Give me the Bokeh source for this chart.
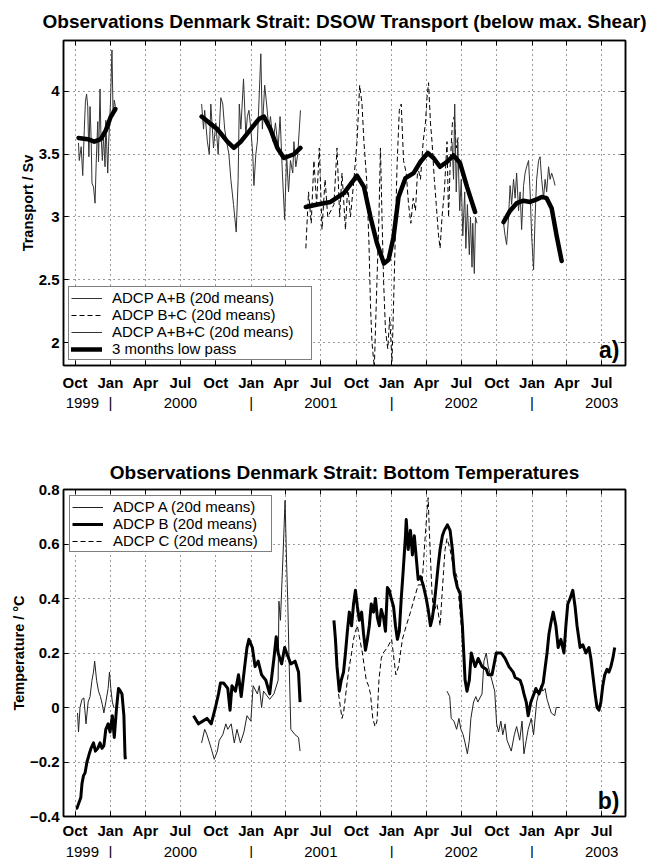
import numpy as np
import pandas as pd
from bokeh.plotting import figure
from bokeh.layouts import column
from bokeh.models import (Range1d, FixedTicker, LinearAxis, CustomJSTickFormatter,
                          Legend, LegendItem, Label)
from bokeh.embed import file_html
from bokeh.resources import INLINE

FONT = "Liberation Sans"
T0 = pd.Timestamp("1999-10-01")          # day offsets below count from this date

# ---------------- panel a: transport (Sv) ----------------
ab_days_1 = [9, 11, 16, 20, 24, 27, 30, 33, 36, 39, 42, 44, 48, 52, 55, 59, 61, 65, 67, 71,
             74, 78, 80, 85, 87, 92, 96, 99, 102, 105]
ab_vals_1 = [3.59, 3.45, 3.56, 3.33, 3.69, 3.92, 3.98, 3.88, 3.48, 3.88, 3.61, 3.27, 3.24, 3.11,
             3.43, 3.76, 3.44, 4.02, 3.69, 3.45, 3.64, 3.40, 3.77, 3.35, 3.56, 3.90, 4.33, 3.80,
             3.93, 3.88]
ab_days_2 = [329, 334, 337, 344, 349, 353, 360, 366, 372, 379, 384, 389, 394, 400, 405, 412, 419,
             424, 427, 431, 438, 444, 448, 452, 457, 462, 465, 470, 474, 483, 487, 493, 498, 504,
             508, 515, 521, 528, 533, 539, 545, 550, 555, 560, 566, 569, 574, 579, 586]
ab_vals_2 = [3.90, 3.70, 3.85, 3.60, 3.50, 3.90, 3.55, 3.75, 3.50, 3.95, 3.90, 3.70, 3.60, 3.50,
             3.30, 3.10, 2.88, 3.30, 3.90, 3.70, 4.10, 3.65, 3.80, 3.85, 3.70, 3.50, 3.25, 3.50,
             3.60, 4.30, 3.70, 4.05, 3.90, 3.70, 3.80, 3.60, 3.75, 3.55, 3.80, 3.35, 2.98, 3.50,
             3.20, 3.45, 3.35, 3.60, 3.40, 3.50, 3.85]
bc_days = [600, 607, 614, 621, 628, 635, 642, 650, 657, 673, 681, 688, 694, 703, 709, 716, 725,
           733, 740, 746, 751, 758, 764, 768, 772, 778, 783, 790, 794, 798, 802, 807, 813, 818,
           824, 828, 833, 837, 843, 848, 854, 861, 867, 873, 879, 885, 891, 898, 905, 911, 915,
           919, 924, 928, 934, 939, 945, 949, 954, 960, 967, 971, 975, 981, 986, 991, 997]
bc_vals = [2.75, 3.20, 2.95, 3.45, 3.10, 3.55, 2.90, 3.30, 3.00, 3.10, 3.55, 3.00, 3.35, 2.90,
           3.25, 3.00, 3.30, 3.60, 4.05, 3.90, 3.60, 3.30, 2.80, 2.30, 2.00, 1.80, 2.30, 3.00,
           3.55, 3.00, 2.50, 2.10, 1.95, 2.20, 1.85, 2.30, 2.90, 3.40, 3.85, 3.90, 3.45, 3.35,
           3.10, 2.95, 3.15, 3.05, 3.40, 3.30, 3.60, 3.75, 3.95, 4.07, 3.75, 3.60, 3.30, 3.10,
           2.85, 2.75, 3.00, 3.20, 3.60, 3.00, 3.40, 3.75, 3.80, 3.55, 3.65]
abc_days_1 = [980, 984, 987, 991, 995, 1000, 1004, 1008, 1013, 1016, 1020, 1025, 1028, 1032,
              1034, 1038, 1041, 1045]
abc_vals_1 = [3.60, 3.30, 3.90, 3.20, 3.60, 3.05, 3.30, 2.85, 3.20, 2.75, 3.10, 2.70, 3.00, 2.60,
              2.95, 2.55, 3.00, 2.95]
abc_days_2 = [1114, 1118, 1122, 1127, 1131, 1135, 1140, 1144, 1148, 1153, 1157, 1161, 1166, 1170,
              1174, 1179, 1183, 1187, 1192, 1196, 1200, 1205, 1209, 1213, 1218, 1222, 1226, 1231,
              1235, 1239, 1244, 1248]
abc_vals_2 = [2.95, 2.85, 2.78, 3.00, 3.25, 3.10, 3.30, 3.15, 3.35, 3.05, 3.20, 2.90, 3.25, 3.35,
              3.40, 3.45, 3.20, 2.85, 2.58, 3.00, 3.30, 3.45, 3.48, 3.30, 3.15, 3.30, 3.20, 3.40,
              3.30, 3.35, 3.30, 3.25]
lp_days_1 = [9, 33, 50, 67, 80, 93, 105]
lp_vals_1 = [3.63, 3.62, 3.60, 3.62, 3.69, 3.80, 3.86]
lp_days_2 = [329, 349, 370, 396, 413, 431, 457, 478, 491, 508, 526, 543, 569, 586]
lp_vals_2 = [3.80, 3.75, 3.70, 3.60, 3.55, 3.60, 3.70, 3.78, 3.80, 3.70, 3.55, 3.47, 3.50, 3.55]
lp_days_3 = [600, 630, 664, 699, 733, 751, 768, 785, 803, 815, 828, 841, 859, 880, 898, 917, 932,
             949, 967, 984, 1001, 1019, 1040]
lp_vals_3 = [3.08, 3.10, 3.12, 3.19, 3.33, 3.24, 3.00, 2.79, 2.63, 2.66, 2.84, 3.16, 3.31, 3.35,
             3.44, 3.51, 3.47, 3.40, 3.44, 3.49, 3.43, 3.24, 3.04]
lp_days_4 = [1114, 1131, 1148, 1166, 1183, 1200, 1213, 1226, 1239, 1252, 1265]
lp_vals_4 = [2.96, 3.05, 3.11, 3.13, 3.12, 3.14, 3.16, 3.15, 3.07, 2.85, 2.65]

# ---------------- panel b: bottom temperatures (degC) ----------------
a_days_1 = [6.5, 9, 13, 18, 23, 28.5, 34, 39, 44, 48, 51, 56, 61, 66, 71, 75, 80, 86, 89.5, 93,
            97, 101]
a_vals_1 = [-0.02, -0.09, 0.00, 0.03, 0.035, -0.06, 0.02, 0.04, 0.10, 0.13, 0.17, 0.10, 0.06,
            0.04, 0.01, -0.02, 0.02, 0.07, 0.13, 0.07, 0.02, 0.00]
a_days_2 = [329, 337, 343, 354, 362, 370, 375, 384, 392, 397, 406, 414, 421, 430, 439, 447, 457,
            463, 474, 479, 485, 490, 506, 517, 528, 530, 534, 541, 546, 550, 553, 556, 561, 572,
            581, 585]
a_vals_2 = [-0.13, -0.08, -0.10, -0.15, -0.19, -0.16, -0.12, -0.10, -0.06, -0.08, -0.06, -0.13,
            -0.08, -0.13, -0.09, -0.03, -0.05, 0.08, 0.05, 0.08, 0.00, 0.06, 0.03, 0.05, 0.10,
            0.39, 0.32, 0.57, 0.76, 0.53, 0.39, 0.20, -0.08, -0.10, -0.11, -0.16]
a_days_3 = [967, 974, 978, 985, 992, 998, 1003, 1009, 1014, 1020, 1025, 1029, 1036, 1042, 1047,
            1058, 1063, 1069, 1074, 1080, 1091, 1096, 1101, 1107, 1112, 1118, 1123, 1134, 1142,
            1148, 1156, 1162, 1167, 1173, 1178, 1186, 1192, 1200, 1205, 1211, 1216, 1222, 1227,
            1238, 1247, 1251, 1260]
a_vals_3 = [0.06, 0.04, -0.04, -0.05, -0.08, -0.04, -0.08, -0.10, -0.13, -0.17, -0.12, -0.04,
            0.02, 0.04, 0.02, 0.05, 0.17, 0.20, 0.15, 0.12, 0.06, -0.06, -0.09, -0.05, -0.10,
            -0.06, -0.12, -0.16, -0.10, -0.07, -0.12, -0.05, -0.17, -0.12, -0.08, -0.04, -0.10,
            0.02, 0.05, 0.08, 0.06, 0.07, 0.03, -0.02, -0.03, 0.00, 0.00]
b_days_1 = [2, 5, 10, 15, 18, 22, 26, 31, 37, 41.5, 48, 53, 59, 65, 70, 75, 80, 86, 91, 97, 102,
            108, 113, 118, 122, 127, 130, 131]
b_vals_1 = [-0.37, -0.37, -0.35, -0.33, -0.28, -0.25, -0.24, -0.20, -0.17, -0.15, -0.13, -0.16,
            -0.15, -0.13, -0.15, -0.14, -0.08, -0.06, -0.09, -0.03, -0.11, 0.00, 0.07, 0.06, 0.05,
            -0.03, -0.18, -0.19]
b_days_2 = [308, 321, 332, 343, 354, 365, 373, 378, 386, 397, 403, 408, 417, 425, 432, 441, 447,
            452, 461, 468, 476, 485, 496, 506, 517, 523, 528, 537, 545, 550, 561, 572, 581, 585]
b_vals_2 = [-0.03, -0.06, -0.05, -0.04, -0.06, 0.00, 0.05, 0.09, 0.09, 0.07, -0.01, 0.08, 0.06,
            0.12, 0.04, 0.15, 0.22, 0.25, 0.22, 0.15, 0.17, 0.12, 0.10, 0.05, 0.18, 0.26, 0.20,
            0.16, 0.22, 0.20, 0.16, 0.17, 0.13, 0.02]
b_days_3 = [673, 677, 681, 687, 692, 698, 703, 708, 713, 719,
            724, 729, 734, 739, 745, 750, 755, 760, 765, 770,
            776, 781, 786, 791, 796, 802, 807, 812, 817, 822,
            828, 833, 838, 843, 848, 853, 859, 861, 866, 872,
            877, 882, 887, 892, 898, 905, 913, 918, 924, 929,
            934, 939, 944, 949, 955, 960, 968, 975, 981, 986,
            994, 1001, 1007, 1014, 1019, 1025, 1030, 1040, 1048, 1058,
            1069, 1074, 1084, 1095, 1108, 1118, 1128, 1139, 1144, 1157,
            1162, 1167, 1173, 1178, 1185, 1193, 1198, 1206, 1217, 1227,
            1232, 1237, 1243, 1250, 1256, 1263, 1271, 1276, 1281, 1287,
            1294, 1300, 1305, 1313, 1320, 1328, 1336, 1341, 1346, 1352,
            1357, 1362, 1367, 1372, 1377, 1383, 1388, 1393, 1398, 1403]
b_vals_3 = [0.32, 0.25, 0.15, 0.06, 0.10, 0.13, 0.20, 0.28, 0.35, 0.30,
            0.38, 0.43, 0.37, 0.32, 0.35, 0.27, 0.21, 0.25, 0.30, 0.38,
            0.35, 0.40, 0.33, 0.30, 0.36, 0.33, 0.28, 0.44, 0.43, 0.40,
            0.37, 0.30, 0.25, 0.28, 0.40, 0.50, 0.63, 0.69, 0.58, 0.65,
            0.56, 0.63, 0.55, 0.47, 0.48, 0.45, 0.40, 0.36, 0.30, 0.33,
            0.38, 0.45, 0.52, 0.58, 0.63, 0.65, 0.67, 0.65, 0.58, 0.49,
            0.44, 0.42, 0.30, 0.10, 0.06, 0.10, 0.20, 0.15, 0.18, 0.15,
            0.14, 0.12, 0.12, 0.20, 0.20, 0.18, 0.15, 0.13, 0.11, 0.10,
            0.08, 0.05, 0.02, -0.03, 0.02, 0.05, 0.07, 0.05, 0.09, 0.20,
            0.27, 0.31, 0.35, 0.30, 0.22, 0.25, 0.20, 0.30, 0.38, 0.40,
            0.43, 0.37, 0.30, 0.22, 0.23, 0.20, 0.22, 0.18, 0.12, 0.05,
            0.00, -0.01, 0.02, 0.08, 0.12, 0.14, 0.13, 0.15, 0.18, 0.22]
c_days = [685, 690, 694, 698, 703, 708, 713, 719, 724, 729, 734, 739, 747, 752, 757, 763, 768,
          774, 780, 785, 790, 796, 801, 812, 823, 834, 841, 851, 861, 872, 882, 892, 902, 909,
          915, 918, 921, 924, 928, 932, 941, 949, 958, 962, 967, 975, 983, 993, 1001, 1006, 1010]
c_vals = [0.05, 0.00, -0.04, -0.02, 0.04, 0.10, 0.15, 0.20, 0.25, 0.28, 0.30, 0.26, 0.20, 0.15,
          0.10, 0.08, 0.05, -0.04, -0.07, -0.05, 0.10, 0.18, 0.20, 0.22, 0.25, 0.12, 0.15, 0.25,
          0.30, 0.35, 0.40, 0.45, 0.45, 0.60, 0.72, 0.77, 0.65, 0.55, 0.42, 0.35, 0.38, 0.30,
          0.50, 0.58, 0.62, 0.58, 0.52, 0.48, 0.35, 0.27, 0.20]

# ---------------- axes ----------------
x_start, x_end = "1999-09-01", "2003-09-01"
quarter_ticks = pd.date_range("1999-10-01", "2003-07-01", freq="3MS")
year_row_dates = ["1999-10-20", "2000-01-01", "2000-07-01", "2001-01-01", "2001-07-01",
                  "2002-01-01", "2002-07-01", "2003-01-01", "2003-07-01"]
year_row_texts = ["1999", "|", "2000", "|", "2001", "|", "2002", "|", "2003"]
yticks_a = [2, 2.5, 3, 3.5, 4]
yticks_b = [-0.4, -0.2, 0, 0.2, 0.4, 0.6, 0.8]


def ms(day_list):
    return list(T0.value / 1e6 + np.asarray(day_list, dtype=float) * 86400000.0)


def ms_date(s):
    return pd.Timestamp(s).value / 1e6


XT = [t.value / 1e6 for t in quarter_ticks]
YRT = [ms_date(d) for d in year_row_dates]
month_fmt = CustomJSTickFormatter(code="""
const m = ["Jan","Feb","Mar","Apr","May","Jun","Jul","Aug","Sep","Oct","Nov","Dec"];
return m[new Date(tick).getUTCMonth()];
""")
year_fmt = CustomJSTickFormatter(args=dict(pos=YRT, txt=year_row_texts), code="""
for (let i = 0; i < pos.length; i++) {
  if (Math.abs(pos[i] - tick) < 1000) return txt[i];
}
return "";
""")
num_fmt = CustomJSTickFormatter(code="""
let s = tick.toFixed(1);
if (s.endsWith(".0")) s = s.slice(0, -2);
if (s == "-0") s = "0";
return s.replace("-", "\u2212");
""")


def make_fig(title, yr, yticks, frame_h, b_top, b_bottom, ylabel, title_standoff,
             month_standoff, year_standoff, ylabel_standoff):
    p = figure(frame_width=562, frame_height=frame_h,
               x_range=Range1d(ms_date(x_start), ms_date(x_end)), y_range=Range1d(*yr),
               output_backend="svg", toolbar_location=None,
               min_border_left=63, min_border_right=35,
               min_border_top=b_top, min_border_bottom=b_bottom)
    p.title.text = title
    p.title.align = "center"
    p.title.text_font = FONT
    p.title.text_font_size = "19px"
    p.title.text_font_style = "bold"
    p.title.text_color = "black"
    p.title.text_line_height = 0.9
    p.title.standoff = title_standoff
    p.outline_line_color = "black"
    p.outline_line_width = 1.5
    p.background_fill_color = "white"

    xa = p.xaxis[0]
    xa.ticker = FixedTicker(ticks=XT)
    xa.formatter = month_fmt
    ya = p.yaxis[0]
    ya.ticker = FixedTicker(ticks=yticks)
    ya.formatter = num_fmt
    ya.axis_label = ylabel
    ya.axis_label_text_font = FONT
    ya.axis_label_text_font_size = "14.5px"
    ya.axis_label_text_font_style = "bold"
    ya.axis_label_text_color = "black"
    ya.axis_label_standoff = ylabel_standoff
    xa.major_label_standoff = month_standoff
    ya.major_label_standoff = 4
    for ax in (xa, ya):
        ax.major_label_text_font = FONT
        ax.major_label_text_font_size = "15px"
        ax.major_label_text_font_style = "bold"
        ax.major_label_text_color = "black"
        ax.major_tick_in = 5
        ax.major_tick_out = 0
        ax.minor_tick_line_color = None
        ax.axis_line_width = 1.5
        ax.major_tick_line_width = 1

    top = LinearAxis(ticker=FixedTicker(ticks=XT), major_label_text_font_size="1px",
                     major_label_text_color=None, major_tick_in=5, major_tick_out=0,
                     minor_tick_line_color=None, major_label_standoff=0, axis_line_width=1.5)
    right = LinearAxis(ticker=FixedTicker(ticks=yticks), major_label_text_font_size="1px",
                       major_label_text_color=None, major_tick_in=5, major_tick_out=0,
                       minor_tick_line_color=None, major_label_standoff=0, axis_line_width=1.5)
    p.add_layout(top, "above")
    p.add_layout(right, "right")

    years = LinearAxis(ticker=FixedTicker(ticks=YRT), formatter=year_fmt,
                       axis_line_color=None, major_tick_line_color=None,
                       minor_tick_line_color=None, major_tick_in=0, major_tick_out=0,
                       major_label_standoff=year_standoff, major_label_text_font=FONT,
                       major_label_text_font_size="15px", major_label_text_color="black")
    p.add_layout(years, "below")

    p.xgrid.ticker = FixedTicker(ticks=XT)
    p.ygrid.ticker = FixedTicker(ticks=yticks)
    for g in (p.xgrid, p.ygrid):
        g.grid_line_color = "#222222"
        g.grid_line_dash = "1 4"
        g.grid_line_width = 1
        g.grid_line_alpha = 0.9
    return p


def add_panel_tag(p, tag):
    p.add_layout(Label(x=556, y=3, x_units="screen", y_units="screen", text=tag,
                       text_align="right", text_baseline="bottom", text_font=FONT,
                       text_font_size="23px", text_font_style="bold", text_color="black"))


# ---------------- figure a ----------------
pa = make_fig("Observations Denmark Strait: DSOW Transport (below max. Shear)",
              (1.817, 4.406), yticks_a, 325, 40, 65, "Transport / Sv", 17, 8, 0, 0)
r_ab = pa.multi_line(xs=[ms(ab_days_1), ms(ab_days_2)], ys=[ab_vals_1, ab_vals_2],
                     line_color="#333333", line_width=1)
r_bc = pa.line(ms(bc_days), bc_vals, line_color="black", line_width=1, line_dash="5 3")
r_abc = pa.multi_line(xs=[ms(abc_days_1), ms(abc_days_2)], ys=[abc_vals_1, abc_vals_2],
                      line_color="#333333", line_width=1)
r_lp = pa.multi_line(xs=[ms(lp_days_1), ms(lp_days_2), ms(lp_days_3), ms(lp_days_4)],
                     ys=[lp_vals_1, lp_vals_2, lp_vals_3, lp_vals_4],
                     line_color="black", line_width=4.5, line_join="round", line_cap="round")
leg_a = Legend(items=[LegendItem(label="ADCP A+B (20d means)", renderers=[r_ab]),
                      LegendItem(label="ADCP B+C (20d means)", renderers=[r_bc]),
                      LegendItem(label="ADCP A+B+C (20d means)", renderers=[r_abc]),
                      LegendItem(label="3 months low pass", renderers=[r_lp])],
               location=(5, 5), margin=0)
add_panel_tag(pa, "a)")

# ---------------- figure b ----------------
pb = make_fig("Observations Denmark Strait: Bottom Temperatures",
              (-0.4, 0.8), yticks_b, 327, 59, 40, "Temperature / \u00b0C", 14, 5, 1, 0)
r_a = pb.multi_line(xs=[ms(a_days_1), ms(a_days_2), ms(a_days_3)],
                    ys=[a_vals_1, a_vals_2, a_vals_3], line_color="#222222", line_width=1)
r_b = pb.multi_line(xs=[ms(b_days_1), ms(b_days_2), ms(b_days_3)],
                    ys=[b_vals_1, b_vals_2, b_vals_3], line_color="black", line_width=3,
                    line_join="round")
r_c = pb.line(ms(c_days), c_vals, line_color="black", line_width=1, line_dash="5 3")
leg_b = Legend(items=[LegendItem(label="ADCP A (20d means)", renderers=[r_a]),
                      LegendItem(label="ADCP B (20d means)", renderers=[r_b]),
                      LegendItem(label="ADCP C (20d means)", renderers=[r_c])],
               location="top_left", margin=6)
add_panel_tag(pb, "b)")

for leg in (leg_a, leg_b):
    leg.label_text_font = FONT
    leg.label_text_font_size = "15px"
    leg.label_text_color = "black"
    leg.border_line_color = "black"
    leg.border_line_width = 1.5
    leg.background_fill_color = "white"
    leg.background_fill_alpha = 1
    leg.padding = 2
    leg.spacing = 0
    leg.glyph_width = 31
    leg.glyph_height = 16
    leg.label_height = 16
    leg.label_standoff = 10
leg_a.label_width = 197
leg_b.label_width = 156
pa.add_layout(leg_a, "center")
pb.add_layout(leg_b, "center")

layout = column(pa, pb, spacing=0)
open("out.html", "w").write(file_html(layout, INLINE))
